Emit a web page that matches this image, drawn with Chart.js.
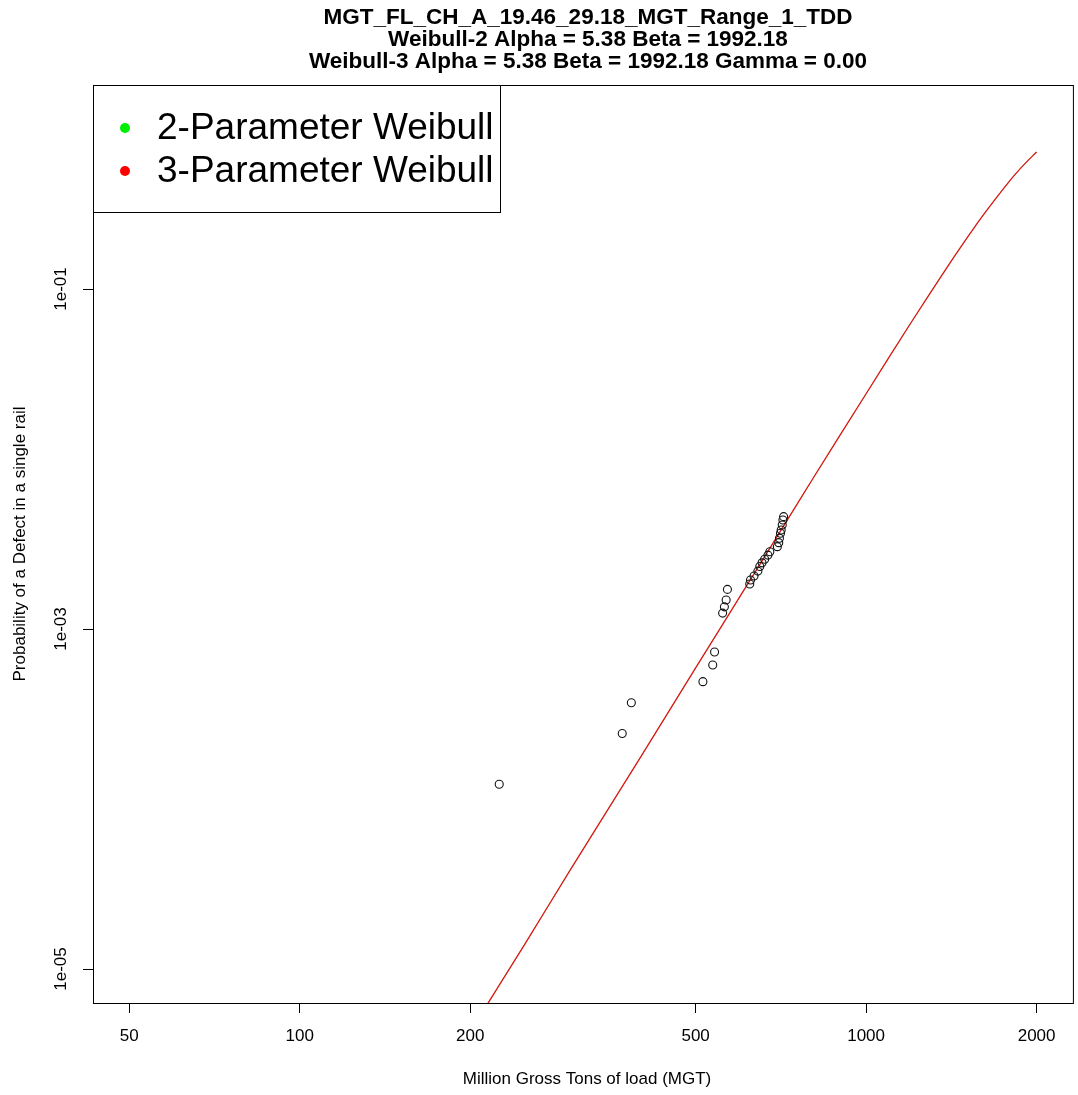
<!DOCTYPE html>
<html>
<head>
<meta charset="utf-8">
<script src="https://cdn.jsdelivr.net/npm/chart.js@4"></script>
<style>
  html, body { margin:0; padding:0; background:#fff; }
  canvas { display:block; }
</style>
</head>
<body>
<canvas id="chart" width="1078" height="1095"></canvas>
<script>
// observed defects (MGT, probability)
const MGT_OBS = [225, 371, 385, 515, 536, 540, 558, 562, 566, 569,
  623, 625, 634, 644, 649, 655, 662, 671, 676, 697, 701, 703, 706, 708, 711, 713, 715];
const PROB_OBS = [1.22e-4, 2.43e-4, 3.68e-4, 4.90e-4, 6.14e-4, 7.32e-4, 1.24e-3, 1.35e-3, 1.48e-3, 1.71e-3,
  1.84e-3, 1.94e-3, 2.05e-3, 2.19e-3, 2.33e-3, 2.45e-3, 2.57e-3, 2.72e-3, 2.85e-3, 3.05e-3, 3.22e-3, 3.42e-3, 3.66e-3, 3.82e-3, 4.09e-3, 4.38e-3, 4.58e-3];

// fitted curve (same for both fits)
const MGT_FIT = [210, 215, 250, 300, 400, 500, 600, 700, 800, 1000, 1200, 1400, 1500, 1600, 1800, 1900, 2000];
const PROB_FIT = [5.5e-6, 6.3e-6, 1.41e-5, 3.8e-5, 1.77e-4, 5.9e-4, 1.57e-3, 3.6e-3, 7.4e-3, 0.0242, 0.0633, 0.139, 0.195, 0.265, 0.440, 0.539, 0.640];

const X_TICKS = [50, 100, 200, 500, 1000, 2000];
const Y_TICKS = [1e-5, 1e-3, 1e-1];
const Y_LABELS = ['1e-05', '1e-03', '1e-01'];

const TITLE = ['MGT_FL_CH_A_19.46_29.18_MGT_Range_1_TDD',
  'Weibull-2 Alpha = 5.38 Beta = 1992.18',
  'Weibull-3 Alpha = 5.38 Beta = 1992.18 Gamma = 0.00'];
const X_TITLE = 'Million Gross Tons of load (MGT)';
const Y_TITLE = 'Probability of a Defect in a single rail';

const FONT = '"Liberation Sans", Arial, sans-serif';

const pts = (xs, ys) => xs.map((v, i) => ({x: v, y: ys[i]}));

// R style 4% axis expansion on log scale
const expand = (lo, hi) => {
  const a = Math.log10(lo), b = Math.log10(hi), d = (b - a) * 0.04;
  return [Math.pow(10, a - d), Math.pow(10, b + d)];
};
const [xMin, xMax] = expand(50, 2000);
const [yMin, yMax] = expand(1e-5, 1);

const decor = {
  id: 'decor',
  afterDraw(chart) {
    const {ctx, chartArea: a, scales: {y}} = chart;
    ctx.save();
    ctx.strokeStyle = '#000'; ctx.lineWidth = 1;
    ctx.strokeRect(a.left + 0.5, a.top + 0.5, a.right - a.left, a.bottom - a.top);

    ctx.fillStyle = '#000';
    ctx.textAlign = 'center'; ctx.textBaseline = 'middle';

    // rotated y tick labels
    ctx.font = '17px ' + FONT;
    Y_TICKS.forEach((v, i) => {
      ctx.save();
      ctx.translate(61, y.getPixelForValue(v));
      ctx.rotate(-Math.PI / 2);
      ctx.fillText(Y_LABELS[i], 0, 0);
      ctx.restore();
    });

    // axis titles
    ctx.fillText(X_TITLE, 587, 1079);
    ctx.save();
    ctx.translate(20, (a.top + a.bottom) / 2);
    ctx.rotate(-Math.PI / 2);
    ctx.fillText(Y_TITLE, 0, 0);
    ctx.restore();

    // title
    ctx.font = 'bold 22.5px ' + FONT;
    TITLE.forEach((t, i) => ctx.fillText(t, 588, 18 + i * 22));

    // legend (top left, inside plot)
    ctx.fillStyle = '#fff';
    ctx.fillRect(94, 86, 406, 126);
    ctx.strokeRect(93.5, 85.5, 407, 127);
    ctx.font = '37px ' + FONT;
    ctx.textAlign = 'left';
    const items = chart.data.datasets.filter(d => d.legendOrder).sort((p, q) => p.legendOrder - q.legendOrder);
    items.forEach((d, i) => {
      const cy = 128 + i * 43;
      ctx.fillStyle = d.legendColor;
      ctx.beginPath(); ctx.arc(125, cy, 5, 0, Math.PI * 2); ctx.fill();
      ctx.fillStyle = '#000';
      ctx.fillText(d.label, 157, cy + 1);
    });
    ctx.restore();
  }
};

new Chart(document.getElementById('chart'), {
  type: 'scatter',
  data: {
    datasets: [
      { label: 'Observed', data: pts(MGT_OBS, PROB_OBS), order: 0,
        pointStyle: 'circle', pointRadius: 4, borderWidth: 1.1,
        borderColor: '#111', backgroundColor: 'rgba(0,0,0,0)' },
      { label: '2-Parameter Weibull', legendOrder: 1, legendColor: '#00ee00',
        type: 'line', data: pts(MGT_FIT, PROB_FIT), order: 2,
        borderColor: '#00cc00', borderWidth: 0.6, pointRadius: 0, tension: 0.3, fill: false },
      { label: '3-Parameter Weibull', legendOrder: 2, legendColor: '#ff0000',
        type: 'line', data: pts(MGT_FIT, PROB_FIT), order: 1,
        borderColor: '#e01818', borderWidth: 1.3, pointRadius: 0, tension: 0.3, fill: false }
    ]
  },
  options: {
    responsive: false,
    animation: false,
    devicePixelRatio: 1,
    layout: { padding: { top: 85, right: 5, left: 0, bottom: 0 } },
    plugins: { legend: { display: false }, title: { display: false }, tooltip: { enabled: false } },
    scales: {
      x: {
        type: 'logarithmic', min: xMin, max: xMax,
        afterBuildTicks: s => { s.ticks = X_TICKS.map(v => ({value: v})); },
        afterFit: s => { s.height = 92; },
        grid: { drawOnChartArea: false, drawTicks: true, tickLength: 10, color: '#000', tickColor: '#000' },
        border: { display: true, color: '#000' },
        ticks: { autoSkip: false, maxRotation: 0, minRotation: 0, padding: 13, color: '#000',
          font: { family: FONT, size: 17 }, callback: v => String(v) }
      },
      y: {
        type: 'logarithmic', min: yMin, max: yMax,
        afterBuildTicks: s => { s.ticks = Y_TICKS.map(v => ({value: v})); },
        afterFit: s => { s.width = 93; },
        grid: { drawOnChartArea: false, drawTicks: true, tickLength: 10, color: '#000', tickColor: '#000' },
        border: { display: true, color: '#000' },
        ticks: { display: false }
      }
    }
  },
  plugins: [decor]
});
</script>
</body>
</html>
